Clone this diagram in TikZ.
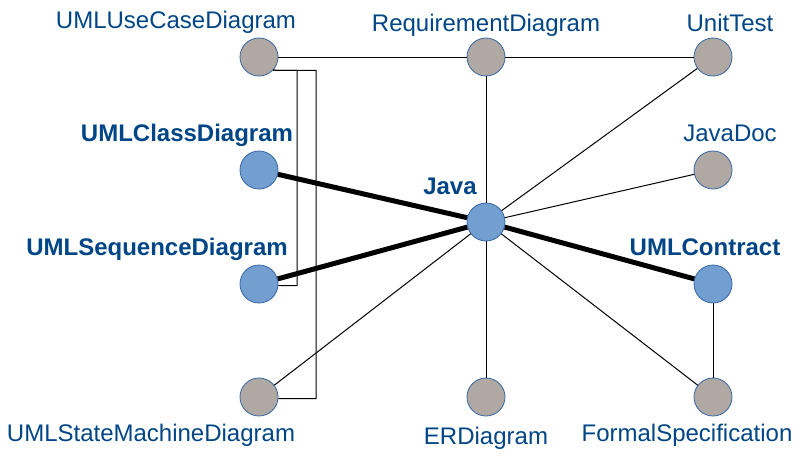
\documentclass[tikz,border=0pt]{standalone}
\usepackage{fontspec}
\setmainfont{Liberation Sans}
\definecolor{txtblue}{HTML}{004586}
\definecolor{nodeblue}{HTML}{729FCF}
\definecolor{nodegray}{HTML}{B0A9A3}
\definecolor{rimblue}{HTML}{3465A4}
\begin{document}
\begin{tikzpicture}[x=1pt,y=-1pt,
  nd/.style={circle,minimum size=38pt,inner sep=0pt,draw=rimblue,line width=0.8pt},
  bnd/.style={nd,fill=nodeblue},
  gnd/.style={nd,fill=nodegray},
  lbl/.style={anchor=base,inner sep=0pt,text=txtblue,font=\fontsize{24}{28}\selectfont},
  blbl/.style={lbl,font=\fontsize{24}{28}\selectfont\bfseries},
  thin/.style={line width=1pt,black},
  thick/.style={line width=5pt,black}]
\useasboundingbox (0,0) rectangle (800,455);
% nodes
\node[gnd] (uc) at (259,57) {};
\node[gnd] (req) at (486,57) {};
\node[gnd] (ut) at (713,57) {};
\node[bnd] (cls) at (259,170) {};
\node[gnd] (jd) at (713,170) {};
\node[bnd] (java) at (486,222) {};
\node[bnd] (seq) at (259,284) {};
\node[bnd] (con) at (713,284) {};
\node[gnd] (sm) at (259,397) {};
\node[gnd] (er) at (486,397) {};
\node[gnd] (fs) at (713,397) {};
% labels
\node[lbl] (tuc) at (176,28) {UMLUseCaseDiagram};
\node[lbl] (treq) at (486,31) {RequirementDiagram};
\node[lbl] (tut) at (730,31) {UnitTest};
\node[blbl] (tcls) at (187,141) {UMLClassDiagram};
\node[lbl] (tjd) at (730,141) {JavaDoc};
\node[blbl] (tjava) at (450,194) {Java};
\node[blbl] (tseq) at (157,255) {UMLSequenceDiagram};
\node[blbl] (tcon) at (705,255) {UMLContract};
\node[lbl] (tsm) at (151,441) {UMLStateMachineDiagram};
\node[lbl] (ter) at (486,444) {ERDiagram};
\node[lbl] (tfs) at (687,441) {FormalSpecification};
% edges
\draw[thin] (uc) -- (req);
\draw[thin] (req) -- (ut);
\draw[thin] (uc.-43) -- (297,70.5) |- (seq.-5);
\draw[thin] (uc.-43) -- (316,70.5) |- (sm.-5);
\draw[thin] (java) -- (req);
\draw[thin] (java) -- (ut);
\draw[thin] (java) -- (jd);
\draw[thin] (java) -- (er);
\draw[thin] (java) -- (fs);
\draw[thin] (java) -- (sm);
\draw[thin] (con) -- (fs);
\draw[thick] (cls) -- (java);
\draw[thick] (seq) -- (java);
\draw[thick] (java) -- (con);
\end{tikzpicture}
\end{document}
